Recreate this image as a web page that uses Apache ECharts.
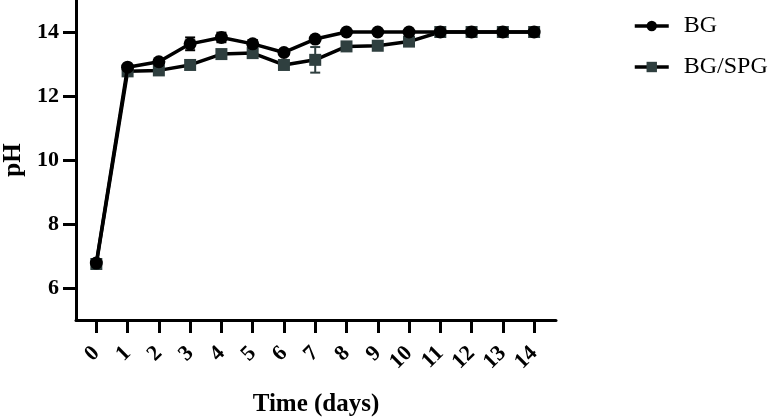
<!DOCTYPE html>
<html>
<head>
<meta charset="utf-8">
<script src="https://cdn.jsdelivr.net/npm/echarts@6/dist/echarts.min.js"></script>
<style>html,body{margin:0;padding:0;background:#fff}#c{width:773px;height:420px}</style>
</head>
<body>
<div id="c"></div>
<script>
const days = [0,1,2,3,4,5,6,7,8,9,10,11,12,13,14];
const bgMean = [6.78,12.9,13.07,13.63,13.83,13.63,13.36,13.78,14.0,14.0,14.0,14.0,14.0,14.0,14.0];
const bgErr  = [0.05,0.05,0.05,0.2,0.15,0.12,0.05,0.05,0,0,0,0,0,0,0];
const spgMean = [6.75,12.77,12.8,12.97,13.31,13.34,12.97,13.13,13.55,13.57,13.7,14.0,14.0,14.0,14.0];
const spgErr  = [0.05,0.05,0.05,0.05,0.05,0.05,0.05,0.4,0.05,0.05,0.05,0,0,0,0];
const yTicks = [6,8,10,12,14];
const seriesNames = ['BG','BG/SPG'];

const FONT = "'Liberation Serif','Times New Roman',serif";
const BG_COLOR = '#000000';
const SPG_COLOR = '#2f3f3f';

function errData(mean, err){
  return days.map((d,i)=>[d, mean[i]-err[i], mean[i]+err[i]]);
}
function errRender(color){
  return function(params, api){
    const x = api.value(0);
    const lo = api.coord([x, api.value(1)]);
    const hi = api.coord([x, api.value(2)]);
    const hw = 5;
    const st = {stroke: color, lineWidth: 2};
    return {type:'group', children:[
      {type:'line', shape:{x1:hi[0],y1:hi[1],x2:lo[0],y2:lo[1]}, style:st},
      {type:'line', shape:{x1:hi[0]-hw,y1:hi[1],x2:hi[0]+hw,y2:hi[1]}, style:st},
      {type:'line', shape:{x1:lo[0]-hw,y1:lo[1],x2:lo[0]+hw,y2:lo[1]}, style:st}
    ]};
  };
}

const chart = echarts.init(document.getElementById('c'));
chart.setOption({
  animation:false,
  backgroundColor:'#fff',
  grid:{left:76, right:217, top:0, bottom:100, containLabel:false, outerBoundsMode:'none'},
  legend:{
    data:seriesNames,
    orient:'vertical',
    left:628, top:9,
    itemWidth:34, itemHeight:13, itemGap:17,
    lineStyle:{width:3.5, color:'#000'},
    textStyle:{fontFamily:FONT, fontSize:24, color:'#000', padding:[0,0,0,10]}
  },
  xAxis:{
    type:'value', min:-0.65, max:14.7,
    name:'Time (days)', nameLocation:'middle', nameGap:72,
    nameTextStyle:{fontFamily:FONT, fontSize:25, fontWeight:'bold', color:'#000'},
    axisLine:{show:true, onZero:false, lineStyle:{color:'#000', width:3}},
    axisTick:{show:true, inside:false, length:13, lineStyle:{color:'#000', width:3}, customValues:days},
    axisLabel:{customValues:days, rotate:45, margin:30, fontFamily:FONT, fontSize:22, fontWeight:'bold', color:'#000'},
    splitLine:{show:false}
  },
  yAxis:{
    type:'value', min:5, max:15,
    name:'pH', nameLocation:'middle', nameGap:49,
    nameTextStyle:{fontFamily:FONT, fontSize:25, fontWeight:'bold', color:'#000'},
    axisLine:{show:true, onZero:false, lineStyle:{color:'#000', width:3}},
    axisTick:{show:true, length:13, lineStyle:{color:'#000', width:3}, customValues:yTicks},
    axisLabel:{customValues:yTicks, margin:17, fontFamily:FONT, fontSize:22, fontWeight:'bold', color:'#000'},
    splitLine:{show:false}
  },
  series:[
    {type:'custom', name:'spgErr', renderItem:errRender(SPG_COLOR), data:errData(spgMean, spgErr), z:1, silent:true},
    {type:'custom', name:'bgErr', renderItem:errRender(BG_COLOR), data:errData(bgMean, bgErr), z:1, silent:true},
    {type:'line', name:seriesNames[1], data:days.map((d,i)=>[d, spgMean[i]]),
     symbol:'rect', symbolSize:12, z:2,
     lineStyle:{color:'#000', width:3.5}, itemStyle:{color:SPG_COLOR}},
    {type:'line', name:seriesNames[0], data:days.map((d,i)=>[d, bgMean[i]]),
     symbol:'circle', symbolSize:13, z:3,
     lineStyle:{color:'#000', width:3.5}, itemStyle:{color:BG_COLOR}}
  ]
});
</script>
</body>
</html>
